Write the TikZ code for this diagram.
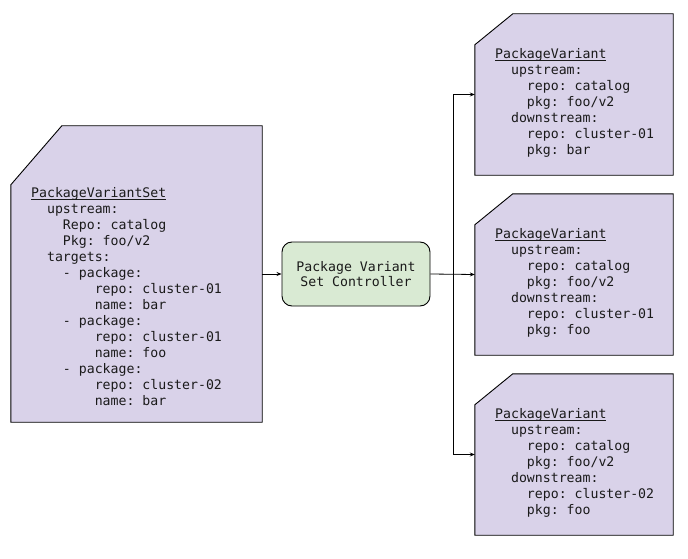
\documentclass[tikz,border=0pt]{standalone}
\usepackage{fontspec}
\setmonofont{DejaVu Sans Mono}
\usetikzlibrary{arrows.meta}
\definecolor{pvfill}{HTML}{D9D2E9}
\definecolor{ctrlfill}{HTML}{D9EAD3}
\definecolor{ink}{HTML}{1A1A1A}
\newcommand\snipbox[3]{\filldraw[boxline] ([xshift=#2]#1.north west) -- (#1.north east) -- (#1.south east) -- (#1.south west) -- ([yshift=-#3]#1.north west) -- cycle;}
\newcommand\ulhead[1]{\setbox0\hbox{#1}\rlap{\rule[-3pt]{\wd0}{0.8pt}}\box0}
\begin{document}
\begin{tikzpicture}[x=1pt,y=-1pt,
  frame/.style={draw=none,inner sep=0pt,minimum width=#1},
  boxline/.style={fill=pvfill,draw=black,line width=0.9pt},
  yaml/.style={align=left,anchor=north west,inner sep=0pt,text=ink,
    font=\ttfamily\fontsize{13.2pt}{16pt}\selectfont},
  ctrlbox/.style={draw=black,line width=0.9pt,fill=ctrlfill,rounded corners=10pt,
    minimum width=148pt,minimum height=64pt,inner sep=0pt,align=center,text=ink,
    font=\ttfamily\fontsize{13.2pt}{15.5pt}\selectfont},
  arr/.style={draw=black,line width=0.8pt,-{Stealth[length=5pt,width=4pt]}}]
\useasboundingbox (0,0) rectangle (688,559);
% frames
\node[frame=251pt,minimum height=296pt] (pvs) at (136.5,274) {};
\node[frame=198pt,minimum height=161pt] (pv1) at (574,94.5) {};
\node[frame=198pt,minimum height=161pt] (pv2) at (574,274.5) {};
\node[frame=198pt,minimum height=161pt] (pv3) at (574,454.5) {};
\snipbox{pvs}{51pt}{59pt}
\snipbox{pv1}{38pt}{31pt}
\snipbox{pv2}{38pt}{31pt}
\snipbox{pv3}{38pt}{31pt}
\node[ctrlbox] (ctrl) at (356,274) {Package Variant\\Set Controller};
% texts
\node[yaml] (t0) at (31,187) {\rule{0pt}{10pt}\ulhead{PackageVariantSet}\\
\phantom{00}upstream:\\
\phantom{0000}Repo: catalog\\
\phantom{0000}Pkg: foo/v2\\
\phantom{00}targets:\\
\phantom{0000}- package:\\
\phantom{00000000}repo: cluster-01\\
\phantom{00000000}name: bar\\
\phantom{0000}- package:\\
\phantom{00000000}repo: cluster-01\\
\phantom{00000000}name: foo\\
\phantom{0000}- package:\\
\phantom{00000000}repo: cluster-02\\
\phantom{00000000}name: bar};
\node[yaml] (t1) at (495,48) {\rule{0pt}{10pt}\ulhead{PackageVariant}\\
\phantom{00}upstream:\\
\phantom{0000}repo: catalog\\
\phantom{0000}pkg: foo/v2\\
\phantom{00}downstream:\\
\phantom{0000}repo: cluster-01\\
\phantom{0000}pkg: bar};
\node[yaml] (t2) at (495,228) {\rule{0pt}{10pt}\ulhead{PackageVariant}\\
\phantom{00}upstream:\\
\phantom{0000}repo: catalog\\
\phantom{0000}pkg: foo/v2\\
\phantom{00}downstream:\\
\phantom{0000}repo: cluster-01\\
\phantom{0000}pkg: foo};
\node[yaml] (t3) at (495,408) {\rule{0pt}{10pt}\ulhead{PackageVariant}\\
\phantom{00}upstream:\\
\phantom{0000}repo: catalog\\
\phantom{0000}pkg: foo/v2\\
\phantom{00}downstream:\\
\phantom{0000}repo: cluster-02\\
\phantom{0000}pkg: foo};
% connectors
\coordinate (br) at (453,274);
\draw[arr] (pvs.east) -- (ctrl.west);
\draw[arr] (ctrl.east) -- (pv2.west);
\draw[arr] (br) |- (pv1.west);
\draw[arr] (br) |- (pv3.west);
\end{tikzpicture}
\end{document}
